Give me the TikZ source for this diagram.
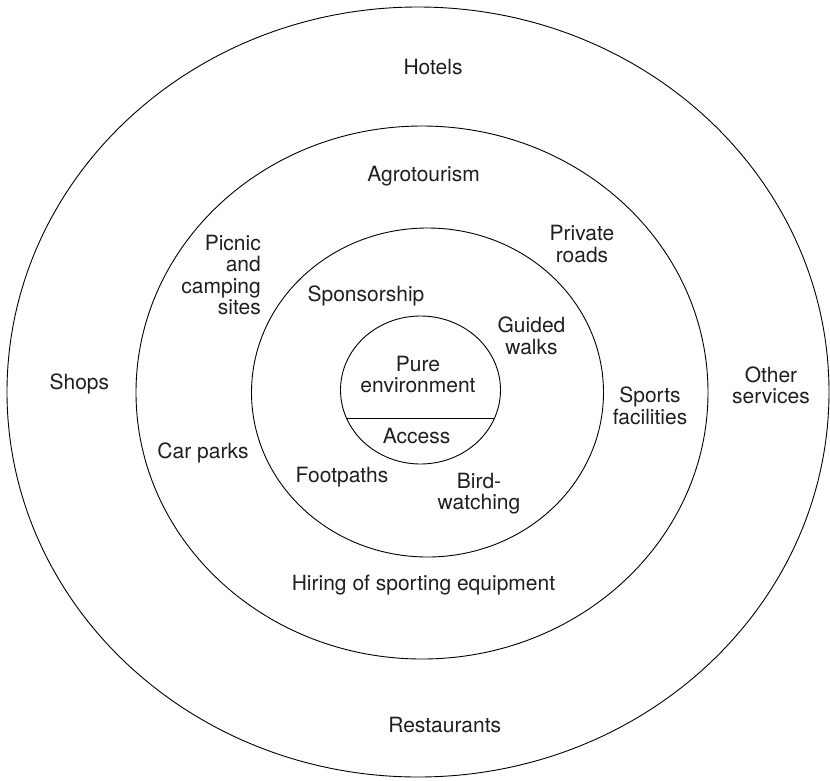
\documentclass[tikz,border=0pt]{standalone}
\usepackage{fontspec}
\setmainfont{TeX Gyre Heros}
\usetikzlibrary{calc}
\begin{document}
\begin{tikzpicture}[x=1pt,y=-1pt,
  ring/.style={draw=black,line width=0.9pt},
  lbl/.style={inner sep=0pt,align=center,text=black!88,font=\fontsize{21}{21.5}\selectfont}]
\useasboundingbox (0,0) rectangle (830,780);
% rings
\coordinate (c1) at (418,392);
\coordinate (c2) at (422,392.5);
\coordinate (c3) at (427.5,392.5);
\coordinate (c4) at (420.5,390);
\draw[ring] (c1) ellipse [x radius=411pt, y radius=385pt];
\draw[ring] (c2) ellipse [x radius=286pt, y radius=266.5pt];
\draw[ring] (c3) ellipse [x radius=176pt, y radius=164.5pt];
\draw[ring] (c4) ellipse [x radius=80pt, y radius=74pt];
\coordinate (chordL) at ($(c4)+(157.5:80 and 74)$);
\coordinate (chordR) at ($(c4)+(22.5:80 and 74)$);
\draw[ring] (chordL) -- (chordR);
% labels
\node[lbl] (hotels) at (433,67) {Hotels};
\node[lbl] (agro) at (423.5,176) {Agrotourism};
\node[lbl,align=right,anchor=east] (picnic) at (261,275) {Picnic\\and\\camping\\sites};
\node[lbl] (private) at (582,244) {Private\\roads};
\node[lbl] (spons) at (366,296) {Sponsorship};
\node[lbl] (guided) at (531.5,336) {Guided\\walks};
\node[lbl] (pure) at (418,374.5) {Pure\\environment};
\node[lbl] (access) at (416.6,436) {Access};
\node[lbl] (shops) at (79.4,384) {Shops};
\node[lbl] (other) at (771,385.5) {Other\\services};
\node[lbl] (sports) at (650,406) {Sports\\facilities};
\node[lbl] (car) at (203,453) {Car parks};
\node[lbl] (foot) at (342,477) {Footpaths};
\node[lbl] (bird) at (479,493.5) {Bird-\\watching};
\node[lbl] (hiring) at (423.5,585) {Hiring of sporting equipment};
\node[lbl] (rest) at (444.7,725) {Restaurants};
\end{tikzpicture}
\end{document}
